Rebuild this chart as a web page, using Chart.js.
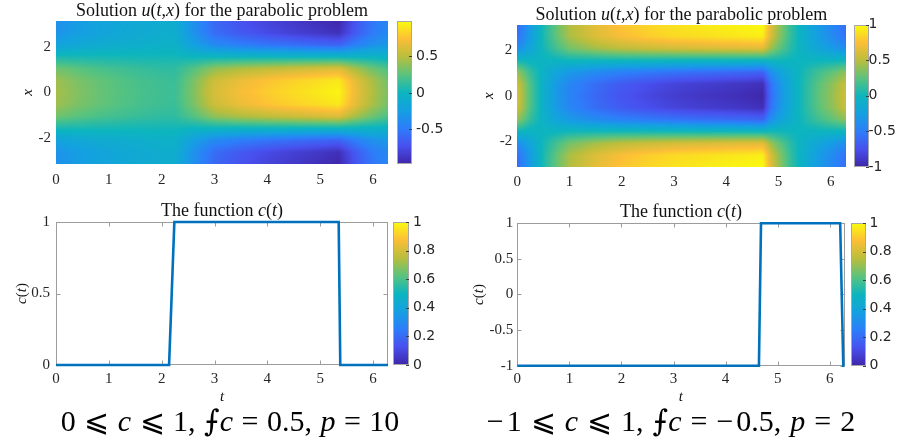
<!DOCTYPE html>
<html><head><meta charset="utf-8">
<script src="https://cdn.jsdelivr.net/npm/chart.js@4.4.1/dist/chart.umd.min.js"></script>
<style>
html,body{margin:0;padding:0;background:#fff;}
#wrap{position:relative;width:901px;height:447px;overflow:hidden;background:#fff;}
#wrap canvas{position:absolute;}
.cap{position:absolute;top:403px;font-family:"Liberation Serif","DejaVu Serif",serif;font-size:30px;color:#000;white-space:nowrap;transform:translateX(-50%);line-height:36px;}
.cap i{font-style:italic;}
.cap .m{padding:0 3px 0 0;}
</style></head><body>
<div id="wrap">
<canvas id="c1" width="450" height="190" style="left:0;top:0"></canvas>
<canvas id="c2" width="451" height="190" style="left:450px;top:0"></canvas>
<canvas id="c3" width="450" height="215" style="left:0;top:190px"></canvas>
<canvas id="c4" width="451" height="215" style="left:450px;top:190px"></canvas>
<div class="cap" style="left:230px;word-spacing:1px">0 ⩽ <i>c</i> ⩽ 1, ⨍<i>c</i> = 0.5, <i>p</i> = 10</div>
<div class="cap" style="left:671px;word-spacing:1.5px"><span class="m">−</span>1 ⩽ <i>c</i> ⩽ 1, ⨍<i>c</i> = <span class="m">−</span>0.5, <i>p</i> = 2</div>
</div>
<script>
// ---------------- data ----------------
const T_MAX = 6.2832;
const X_MIN = -3.1416, X_MAX = 3.1416;
const tTicks = [0, 1, 2, 3, 4, 5, 6];
const xTicks = [-2, 0, 2];

// spatial grid (rows of the heat maps)
const xGrid = [-3.1416, -2.618, -2.0944, -1.5708, -1.0472, -0.5236, 0, 0.5236, 1.0472, 1.5708, 2.0944, 2.618, 3.1416];

// left heat map: u(t,x), one list per time in tGridL
const tGridL = [0, 0.4, 0.8, 1.2, 1.6, 2.0, 2.25, 2.6, 3.0, 3.5, 4.0, 4.5, 5.0, 5.35, 5.7, 6.0, 6.2832];
const uL = [
  [-0.35,-0.33,-0.21, 0.05, 0.31, 0.43, 0.45, 0.43, 0.31, 0.05,-0.21,-0.33,-0.35],
  [-0.27,-0.25,-0.16, 0.045,0.25, 0.34, 0.36, 0.34, 0.25, 0.045,-0.16,-0.25,-0.27],
  [-0.21,-0.20,-0.12, 0.04, 0.20, 0.28, 0.29, 0.28, 0.20, 0.04,-0.12,-0.20,-0.21],
  [-0.17,-0.16,-0.10, 0.035,0.17, 0.23, 0.24, 0.23, 0.17, 0.035,-0.10,-0.16,-0.17],
  [-0.14,-0.13,-0.08, 0.03, 0.14, 0.19, 0.20, 0.19, 0.14, 0.03,-0.08,-0.13,-0.14],
  [-0.11,-0.10,-0.06, 0.03, 0.12, 0.16, 0.17, 0.16, 0.12, 0.03,-0.06,-0.10,-0.11],
  [-0.10,-0.09,-0.055,0.03, 0.115,0.15, 0.16, 0.15, 0.115,0.03,-0.055,-0.09,-0.10],
  [-0.35,-0.33,-0.23, 0.00, 0.23, 0.33, 0.35, 0.33, 0.23, 0.00,-0.23,-0.33,-0.35],
  [-0.60,-0.57,-0.39, 0.00, 0.39, 0.57, 0.60, 0.57, 0.39, 0.00,-0.39,-0.57,-0.60],
  [-0.72,-0.68,-0.47, 0.00, 0.47, 0.68, 0.72, 0.68, 0.47, 0.00,-0.47,-0.68,-0.72],
  [-0.80,-0.76,-0.52, 0.00, 0.52, 0.76, 0.80, 0.76, 0.52, 0.00,-0.52,-0.76,-0.80],
  [-0.86,-0.82,-0.56, 0.00, 0.56, 0.82, 0.86, 0.82, 0.56, 0.00,-0.56,-0.82,-0.86],
  [-0.92,-0.87,-0.60, 0.00, 0.60, 0.87, 0.92, 0.87, 0.60, 0.00,-0.60,-0.87,-0.92],
  [-0.96,-0.91,-0.62, 0.00, 0.62, 0.91, 0.96, 0.91, 0.62, 0.00,-0.62,-0.91,-0.96],
  [-0.68,-0.65,-0.45,-0.01, 0.43, 0.63, 0.66, 0.63, 0.43,-0.01,-0.45,-0.65,-0.68],
  [-0.51,-0.49,-0.34,-0.02, 0.30, 0.45, 0.47, 0.45, 0.30,-0.02,-0.34,-0.49,-0.51],
  [-0.42,-0.40,-0.29,-0.04, 0.21, 0.32, 0.34, 0.32, 0.21,-0.04,-0.29,-0.40,-0.42]
];
const cbRangeL = [-0.973, 0.986];
const cbTicksL = [-0.5, 0, 0.5];

// right heat map
const tGridR = [0, 0.25, 0.5, 0.75, 1.0, 1.5, 2.0, 2.5, 3.0, 3.5, 4.0, 4.4, 4.7, 4.85, 5.0, 5.25, 5.5, 5.8, 6.05, 6.2832];
const uR = [
  [-0.60,-0.57,-0.39, 0.01, 0.41, 0.59, 0.62, 0.59, 0.41, 0.01,-0.39,-0.57,-0.60],
  [-0.28,-0.27,-0.19,-0.03, 0.13, 0.21, 0.22, 0.21, 0.13,-0.03,-0.19,-0.27,-0.28],
  [ 0.05, 0.047,0.027,-0.015,-0.057,-0.077,-0.08,-0.077,-0.057,-0.015,0.027,0.047,0.05],
  [ 0.28, 0.27, 0.18,-0.01,-0.20,-0.29,-0.30,-0.29,-0.20,-0.01, 0.18, 0.27, 0.28],
  [ 0.48, 0.46, 0.32, 0.015,-0.29,-0.43,-0.45,-0.43,-0.29, 0.015,0.32, 0.46, 0.48],
  [ 0.66, 0.63, 0.44, 0.02,-0.40,-0.59,-0.62,-0.59,-0.40, 0.02, 0.44, 0.63, 0.66],
  [ 0.78, 0.74, 0.52, 0.025,-0.47,-0.69,-0.73,-0.69,-0.47, 0.025,0.52, 0.74, 0.78],
  [ 0.85, 0.81, 0.56, 0.025,-0.51,-0.76,-0.80,-0.76,-0.51, 0.025,0.56, 0.81, 0.85],
  [ 0.90, 0.86, 0.59, 0.02,-0.55,-0.82,-0.86,-0.82,-0.55, 0.02, 0.59, 0.86, 0.90],
  [ 0.93, 0.885,0.61, 0.015,-0.58,-0.855,-0.90,-0.855,-0.58,0.015,0.61, 0.885,0.93],
  [ 0.96, 0.91, 0.63, 0.015,-0.60,-0.885,-0.93,-0.885,-0.60,0.015,0.63, 0.91, 0.96],
  [ 0.98, 0.93, 0.64, 0.01,-0.62,-0.91,-0.96,-0.91,-0.62, 0.01, 0.64, 0.93, 0.98],
  [ 1.00, 0.95, 0.65, 0.005,-0.64,-0.94,-0.99,-0.94,-0.64, 0.005,0.65, 0.95, 1.00],
  [ 0.65, 0.62, 0.43, 0.025,-0.38,-0.57,-0.60,-0.57,-0.38, 0.025,0.43, 0.62, 0.65],
  [ 0.42, 0.40, 0.28, 0.02,-0.24,-0.36,-0.38,-0.36,-0.24, 0.02, 0.28, 0.40, 0.42],
  [ 0.12, 0.11, 0.08, 0.00,-0.08,-0.11,-0.12,-0.11,-0.08, 0.00, 0.08, 0.11, 0.12],
  [-0.10,-0.095,-0.07,-0.01,0.05, 0.075,0.08, 0.075,0.05,-0.01,-0.07,-0.095,-0.10],
  [-0.30,-0.285,-0.20,-0.01,0.18, 0.265,0.28, 0.265,0.18,-0.01,-0.20,-0.285,-0.30],
  [-0.44,-0.42,-0.29,-0.01, 0.27, 0.40, 0.42, 0.40, 0.27,-0.01,-0.29,-0.42,-0.44],
  [-0.58,-0.55,-0.38, 0.00, 0.38, 0.55, 0.58, 0.55, 0.38, 0.00,-0.38,-0.55,-0.58]
];
const cbRangeR = [-1, 1];
const cbTicksR = [-1, -0.5, 0, 0.5, 1];

// c(t) step functions
const tCL = [0, 2.14, 2.24, 5.35, 5.38, 6.2832];
const cL  = [0, 0, 1, 1, 0, 0];
const cTicksL = [0, 0.5, 1];
const tCR = [0, 4.64, 4.68, 6.20, 6.26, 6.2832];
const cR  = [-1, -1, 1, 1, -1, -1];
const cTicksR = [-1, -0.5, 0, 0.5, 1];
const cbTicksC = [0, 0.2, 0.4, 0.6, 0.8, 1];

// ---------------- styles ----------------
const SERIF = '"Liberation Serif", "DejaVu Serif", serif';
const SANS = '"DejaVu Sans", "Liberation Sans", sans-serif';
const PARULA = [[62,38,168],[72,80,238],[45,125,250],[20,160,225],[12,181,190],[90,195,125],[185,190,60],[252,190,55],[249,251,14]];
const LINE_BLUE = '#0072BD';
const TXT = '#262626';

function cmap(f){
  f = Math.max(0, Math.min(1, f));
  const n = PARULA.length - 1, p = f * n;
  const i = Math.min(n - 1, Math.floor(p)), r = p - i;
  const a = PARULA[i], b = PARULA[i + 1];
  return [a[0] + (b[0]-a[0])*r, a[1] + (b[1]-a[1])*r, a[2] + (b[2]-a[2])*r];
}

function locate(g, v){
  let i = 0;
  while (i < g.length - 2 && v > g[i + 1]) i++;
  let f = (v - g[i]) / (g[i + 1] - g[i]);
  return [i, Math.max(0, Math.min(1, f))];
}

function makeHeat(tg, xg, U, vmin, vmax){
  return {
    id: 'heat',
    beforeDatasetsDraw(chart){
      const {ctx, chartArea: a} = chart;
      const sx = chart.scales.x, sy = chart.scales.y;
      const L = Math.round(a.left), T = Math.round(a.top), R = Math.round(a.right), B = Math.round(a.bottom);
      const w = R - L, h = B - T;
      const off = document.createElement('canvas'); off.width = w; off.height = h;
      const o = off.getContext('2d'); const img = o.createImageData(w, h); const d = img.data;
      const rows = [];
      for (let py = 0; py < h; py++) rows.push(locate(xg, sy.getValueForPixel(T + py + 0.5)));
      for (let px = 0; px < w; px++){
        const [i, g] = locate(tg, sx.getValueForPixel(L + px + 0.5));
        const c0 = U[i], c1 = U[i + 1];
        for (let py = 0; py < h; py++){
          const [j, f] = rows[py];
          const a0 = c0[j] + (c0[j+1] - c0[j]) * f;
          const a1 = c1[j] + (c1[j+1] - c1[j]) * f;
          const col = cmap((a0 + (a1 - a0) * g - vmin) / (vmax - vmin));
          const k = (py * w + px) * 4;
          d[k] = col[0]; d[k+1] = col[1]; d[k+2] = col[2]; d[k+3] = 255;
        }
      }
      o.putImageData(img, 0, 0);
      ctx.drawImage(off, L, T);
    }
  };
}

function makeCbar(gap, width){
  return {
    id: 'cbar',
    afterDraw(chart){
      const {ctx, chartArea: a} = chart; const cb = chart.scales.cb;
      const x0 = Math.round(a.right + gap), y0 = Math.round(a.top), y1 = Math.round(a.bottom);
      const grad = ctx.createLinearGradient(0, y1, 0, y0);
      PARULA.forEach((c, i) => grad.addColorStop(i / (PARULA.length - 1), 'rgb(' + c.join(',') + ')'));
      ctx.save();
      ctx.fillStyle = grad; ctx.fillRect(x0, y0, width, y1 - y0);
      ctx.strokeStyle = '#a8a8a8'; ctx.lineWidth = 1;
      ctx.strokeRect(x0 + 0.5, y0 + 0.5, width - 1, y1 - y0 - 1);
      ctx.strokeStyle = '#404040';
      cb.ticks.forEach(t => {
        const y = Math.round(cb.getPixelForValue(t.value)) + 0.5;
        ctx.beginPath(); ctx.moveTo(x0 + width - 3, y); ctx.lineTo(x0 + width, y); ctx.stroke();
      });
      ctx.restore();
    }
  };
}

const boxPlugin = {
  id: 'box',
  beforeDatasetsDraw(chart){
    const {ctx, chartArea: a} = chart; const sx = chart.scales.x, sy = chart.scales.y;
    const L = Math.round(a.left) + 0.5, R = Math.round(a.right) - 0.5, T = Math.round(a.top) + 0.5, B = Math.round(a.bottom) - 0.5;
    ctx.save(); ctx.strokeStyle = '#9c9c9c'; ctx.lineWidth = 1;
    ctx.strokeRect(L, T, R - L, B - T);
    ctx.beginPath();
    sx.ticks.forEach(t => { const x = Math.round(sx.getPixelForValue(t.value)) + 0.5; ctx.moveTo(x, B); ctx.lineTo(x, B - 4); ctx.moveTo(x, T); ctx.lineTo(x, T + 4); });
    sy.ticks.forEach(t => { const y = Math.round(sy.getPixelForValue(t.value)) + 0.5; ctx.moveTo(L, y); ctx.lineTo(L + 4, y); ctx.moveTo(R, y); ctx.lineTo(R - 4, y); });
    ctx.stroke(); ctx.restore();
  }
};

function drawSegs(ctx, segs, size, cx, cy, rot){
  ctx.save(); ctx.translate(cx, cy); if (rot) ctx.rotate(rot);
  const fonts = segs.map(s => (s[1] ? 'italic ' : '') + size + 'px ' + SERIF);
  const widths = segs.map((s, i) => { ctx.font = fonts[i]; return ctx.measureText(s[0]).width; });
  const total = widths.reduce((p, c) => p + c, 0);
  let xx = -total / 2;
  ctx.textBaseline = 'alphabetic'; ctx.textAlign = 'left'; ctx.fillStyle = '#111';
  segs.forEach((s, i) => { ctx.font = fonts[i]; ctx.fillText(s[0], xx, 0); xx += widths[i]; });
  ctx.restore();
}

function makeTexts(items){
  return {
    id: 'texts',
    afterDraw(chart){
      const {ctx, chartArea: a} = chart;
      items.forEach(it => {
        const x = it.x === 'mid' ? (a.left + a.right) / 2 : it.x;
        const y = it.y === 'mid' ? (a.top + a.bottom) / 2 : it.y;
        drawSegs(ctx, it.segs, it.size, x, y, it.rot || 0);
      });
    }
  };
}

const TITLE_U = [['Solution ', 0], ['u', 1], ['(', 0], ['t', 1], [',', 0], ['x', 1], [')', 0], [' for the parabolic problem', 0]];
const TITLE_C = [['The function ', 0], ['c', 1], ['(', 0], ['t', 1], [')', 0]];
const LAB_X = [['x', 1]];
const LAB_C = [['c', 1], ['(', 0], ['t', 1], [')', 0]];
const LAB_T = [['t', 1]];

function fixedTicks(list){ return s => { s.ticks = list.map(v => ({value: v})); }; }
function noPad(s){ s.paddingTop = 0; s.paddingBottom = 0; s.paddingLeft = 0; s.paddingRight = 0; }

function axisX(min, max, ticks, h, pad){
  return { type: 'linear', position: 'bottom', min, max,
    grid: {display: false, drawTicks: false}, border: {display: false},
    ticks: {font: {family: SERIF, size: 15}, color: TXT, padding: pad, maxRotation: 0, autoSkip: false, callback: v => String(v)},
    afterBuildTicks: fixedTicks(ticks), afterFit: s => { s.height = h; noPad(s); } };
}
function axisY(min, max, ticks, w, pad){
  return { type: 'linear', position: 'left', min, max,
    grid: {display: false, drawTicks: false}, border: {display: false},
    ticks: {font: {family: SERIF, size: 15}, color: TXT, padding: pad, autoSkip: false, callback: v => String(v)},
    afterBuildTicks: fixedTicks(ticks), afterFit: s => { s.width = w; noPad(s); } };
}
function axisCb(min, max, ticks, w, pad){
  return { type: 'linear', position: 'right', min, max,
    grid: {display: false, drawTicks: false}, border: {display: false},
    ticks: {font: {family: SANS, size: 14}, color: TXT, padding: pad, autoSkip: false, callback: v => String(v)},
    afterBuildTicks: fixedTicks(ticks), afterFit: s => { s.width = w; noPad(s); } };
}
function baseOpts(top, scales){
  return { responsive: false, animation: false, devicePixelRatio: 1,
    layout: {padding: {top, left: 0, right: 0, bottom: 0}},
    plugins: {legend: {display: false}, tooltip: {enabled: false}, title: {display: false}},
    scales };
}
function nodes(tg){ const out = []; tg.forEach(t => xGrid.forEach(x => out.push({x: t, y: x}))); return out; }

// ---- top left: heat map ----
new Chart(document.getElementById('c1'), {
  type: 'scatter',
  data: {datasets: [{data: nodes(tGridL), pointRadius: 0, xAxisID: 'x', yAxisID: 'y'}]},
  options: baseOpts(21, {
    x: axisX(0, T_MAX, tTicks, 26, 7),
    y: axisY(X_MIN, X_MAX, xTicks, 56, 5),
    cb: axisCb(cbRangeL[0], cbRangeL[1], cbTicksL, 62, 28)
  }),
  plugins: [makeHeat(tGridL, xGrid, uL, cbRangeL[0], cbRangeL[1]), makeCbar(9, 15),
    makeTexts([{segs: TITLE_U, size: 18, x: 'mid', y: 15.5}, {segs: LAB_X, size: 15, x: 31.5, y: 'mid', rot: -Math.PI/2}])]
});

// ---- top right: heat map ----
new Chart(document.getElementById('c2'), {
  type: 'scatter',
  data: {datasets: [{data: nodes(tGridR), pointRadius: 0, xAxisID: 'x', yAxisID: 'y'}]},
  options: baseOpts(24.5, {
    x: axisX(0, T_MAX, tTicks, 23, 6),
    y: axisY(X_MIN, X_MAX, xTicks, 67.3, 5),
    cb: axisCb(cbRangeR[0], cbRangeR[1], cbTicksR, 55.5, 23)
  }),
  plugins: [makeHeat(tGridR, xGrid, uR, cbRangeR[0], cbRangeR[1]), makeCbar(8, 15),
    makeTexts([{segs: TITLE_U, size: 18, x: 'mid', y: 19.5}, {segs: LAB_X, size: 15, x: 42.8, y: 'mid', rot: -Math.PI/2}])]
});

// ---- bottom left: c(t) ----
new Chart(document.getElementById('c3'), {
  type: 'scatter',
  data: {datasets: [{data: tCL.map((t, i) => ({x: t, y: cL[i]})), showLine: true, borderColor: LINE_BLUE, borderWidth: 2.6, pointRadius: 0, tension: 0, clip: 6, xAxisID: 'x', yAxisID: 'y'}]},
  options: baseOpts(32, {
    x: axisX(0, T_MAX, tTicks, 40, 5),
    y: axisY(0, 1, cTicksL, 56, 6),
    cb: axisCb(0, 1, cbTicksC, 62, 25)
  }),
  plugins: [boxPlugin, makeCbar(5, 16),
    makeTexts([{segs: TITLE_C, size: 18, x: 'mid', y: 25.7}, {segs: LAB_C, size: 15, x: 26.2, y: 'mid', rot: -Math.PI/2},
               {segs: LAB_T, size: 15, x: 'mid', y: 210.5}])]
});

// ---- bottom right: c(t) ----
new Chart(document.getElementById('c4'), {
  type: 'scatter',
  data: {datasets: [{data: tCR.map((t, i) => ({x: t, y: cR[i]})), showLine: true, borderColor: LINE_BLUE, borderWidth: 2.6, pointRadius: 0, tension: 0, clip: 6, xAxisID: 'x', yAxisID: 'y'}]},
  options: baseOpts(33.3, {
    x: axisX(0, T_MAX, tTicks, 39.3, 4),
    y: axisY(-1, 1, cTicksR, 67.3, 4),
    cb: axisCb(0, 1, cbTicksC, 56.5, 25)
  }),
  plugins: [boxPlugin, makeCbar(6, 15),
    makeTexts([{segs: TITLE_C, size: 18, x: 'mid', y: 26.7}, {segs: LAB_C, size: 15, x: 32.7, y: 'mid', rot: -Math.PI/2},
               {segs: LAB_T, size: 15, x: 'mid', y: 210.5}])]
});
</script>
</body></html>
